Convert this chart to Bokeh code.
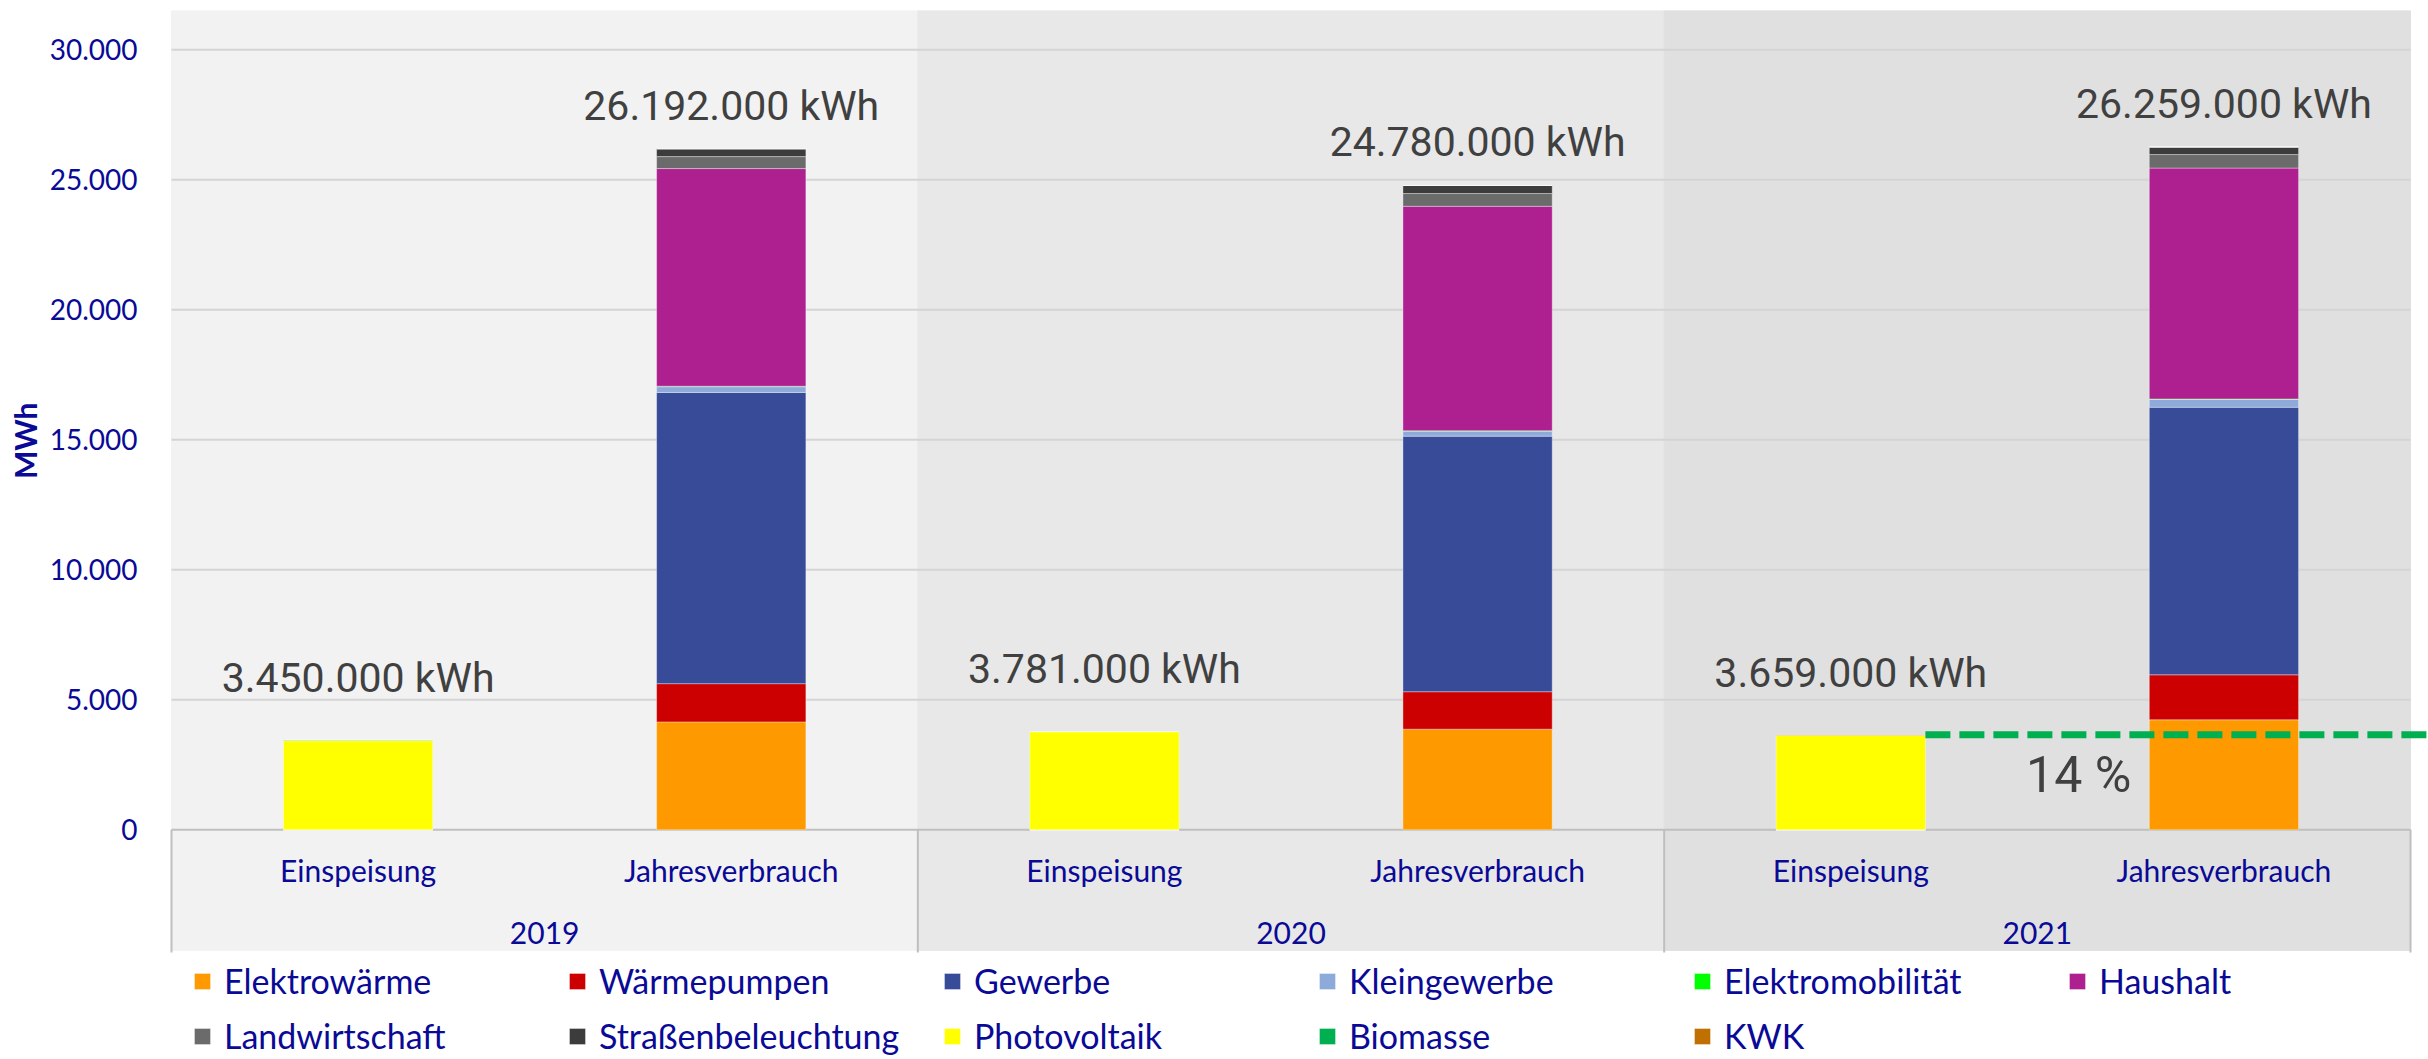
from bokeh.plotting import figure
from bokeh.models import (ColumnDataSource, FactorRange, Range1d, FixedTicker,
                          Legend, LegendItem, Title)
from bokeh.core.properties import value
from bokeh.embed import file_html
from bokeh.resources import INLINE

# ---------------- data (MWh) ----------------
years = ["2019", "2020", "2021"]
kinds = ["Einspeisung", "Jahresverbrauch"]
factors = [(y, k) for y in years for k in kinds]

elektrowaerme     = [0, 4150, 0, 3870, 0, 4230]
waermepumpen      = [0, 1470, 0, 1440, 0, 1730]
gewerbe           = [0, 11200, 0, 9830, 0, 10290]
kleingewerbe      = [0, 220, 0, 190, 0, 300]
elektromobilitaet = [0, 20, 0, 20, 0, 20]
haushalt          = [0, 8370, 0, 8630, 0, 8880]
landwirtschaft    = [0, 460, 0, 490, 0, 520]
strassenbeleucht  = [0, 302, 0, 310, 0, 289]
photovoltaik      = [3430, 0, 3770, 0, 3640, 0]
biomasse          = [20, 0, 11, 0, 0, 0]
kwk               = [0, 0, 0, 0, 19, 0]

series_names = ["Elektrowärme", "Wärmepumpen", "Gewerbe", "Kleingewerbe",
                "Elektromobilität", "Haushalt", "Landwirtschaft",
                "Straßenbeleuchtung", "Photovoltaik", "Biomasse", "KWK"]
series_values = [elektrowaerme, waermepumpen, gewerbe, kleingewerbe,
                 elektromobilitaet, haushalt, landwirtschaft, strassenbeleucht,
                 photovoltaik, biomasse, kwk]
series_colors = ["#FF9900", "#CC0000", "#384B99", "#8EAADB", "#00FF00",
                 "#AE1F90", "#6B6B6B", "#3C3C3C", "#FFFF00", "#00B050", "#C07000"]

y_ticks = [0, 5000, 10000, 15000, 20000, 25000, 30000]
y_tick_labels = ["0", "5.000", "10.000", "15.000", "20.000", "25.000", "30.000"]
year_bg = ["#F2F2F2", "#E8E8E8", "#E0E0E0"]

# ---------------- layout constants ----------------
Y_TOP = 31510
Y_BOTTOM = -8835
CAT_BOTTOM = -4640
SUB_Y = -1565
YEAR_Y = -3985
BLUE = "#0A0A96"
GRAY_TXT = "#404040"
FONT = "Lato"

p = figure(x_range=FactorRange(*factors, factor_padding=0, group_padding=0,
                               subgroup_padding=0, range_padding=0.0482,
                               range_padding_units="absolute"),
           y_range=Range1d(Y_BOTTOM, Y_TOP),
           width=2428, height=1059, output_backend="svg",
           toolbar_location=None, x_axis_location=None, title=None,
           min_border_left=152, min_border_right=0,
           min_border_top=10, min_border_bottom=0)
p.outline_line_color = None
p.background_fill_color = "white"
p.border_fill_color = "white"

left_edge = (years[0], kinds[0], -0.5)
right_edge = (years[-1], kinds[-1], 0.5)

# year backgrounds (plot + category area)
p.vbar(x=years, width=2, bottom=CAT_BOTTOM, top=Y_TOP, color=year_bg,
       level="image")

# grid lines (only across the chart area)
p.xgrid.visible = False
p.ygrid.visible = False
grid_y = y_ticks[1:]
p.segment(x0=[left_edge] * len(grid_y), x1=[right_edge] * len(grid_y),
          y0=grid_y, y1=grid_y, line_color="#D4D4D4", line_width=2,
          level="underlay")

# y axis
p.yaxis.ticker = FixedTicker(ticks=y_ticks)
p.yaxis.major_label_overrides = {t: l for t, l in zip(y_ticks, y_tick_labels)}
p.yaxis.axis_line_color = None
p.yaxis.major_tick_line_color = None
p.yaxis.minor_tick_line_color = None
p.yaxis.major_label_standoff = 10
p.yaxis.major_label_text_font = FONT
p.yaxis.major_label_text_font_size = "28px"
p.yaxis.major_label_text_color = BLUE

p.add_layout(Title(text="MWh", align="right", offset=392, standoff=8,
                   text_font=FONT, text_font_size="30px",
                   text_font_style="bold", text_color=BLUE), "left")

# baseline & category box lines
p.segment(x0=[left_edge], x1=[right_edge], y0=[0], y1=[0],
          line_color="#BFBFBF", line_width=2, level="underlay")
sep_x = [(y, kinds[0], -0.5) for y in years] + [right_edge]
p.segment(x0=sep_x, x1=sep_x, y0=[0] * 4, y1=[CAT_BOTTOM - 80] * 4,
          line_color="#BFBFBF", line_width=2)

# stacked bars
data = {"x": factors}
for n, v in zip(series_names, series_values):
    data[n] = v
src = ColumnDataSource(data)
renderers = p.vbar_stack(series_names, x="x", width=0.4, source=src,
                         color=series_colors, line_color="white",
                         line_alpha=0.35, line_width=1)

# totals labels
totals = [sum(v[i] for v in series_values) for i in range(len(factors))]
labels = [f"{t * 1000:,}".replace(",", ".") + " kWh" for t in totals]
offsets = [-62 if k == "Einspeisung" else -43 for (_, k) in factors]
p.text(x=factors, y=totals, text=labels, y_offset=offsets,
       text_align="center", text_baseline="alphabetic",
       text_font=value("Roboto"), text_font_size="41px", text_color=GRAY_TXT)

# share of feed-in 2021 + dashed line
eins21 = totals[4]
verb21 = totals[5]
share = round(100 * eins21 / verb21)
p.segment(x0=[("2021", "Einspeisung", 0.2)], x1=[("2021", "Jahresverbrauch", 0.6)],
          y0=[eins21], y1=[eins21], line_color="#00B050", line_width=7,
          line_dash="25 9")
p.text(x=[("2021", "Jahresverbrauch", -0.2)], y=[0], text=[f"{share} %"],
       x_offset=-18, y_offset=-55, text_align="right", text_baseline="alphabetic",
       text_font=value("Roboto"), text_font_size="50px", text_color=GRAY_TXT)

# category labels
p.text(x=factors, y=[SUB_Y] * len(factors), text=[k for (_, k) in factors],
       text_align="center", text_baseline="middle", text_font=value(FONT),
       text_font_size="30px", text_color=BLUE)
p.text(x=years, y=[YEAR_Y] * len(years), text=years,
       text_align="center", text_baseline="middle", text_font=value(FONT),
       text_font_size="30px", text_color=BLUE)

# legend
items = [LegendItem(label=n, renderers=[r]) for n, r in zip(series_names, renderers)]
legend = Legend(items=items, location=(39, 3), orientation="horizontal",
                ncols=6, padding=0, margin=0, spacing=14,
                glyph_width=20, glyph_height=20, label_standoff=12,
                label_width=329, label_text_font=FONT,
                label_text_font_size="34px", label_text_color=BLUE,
                background_fill_alpha=0, border_line_color=None)
p.add_layout(legend)

open("out.html", "w").write(file_html(p, INLINE))
